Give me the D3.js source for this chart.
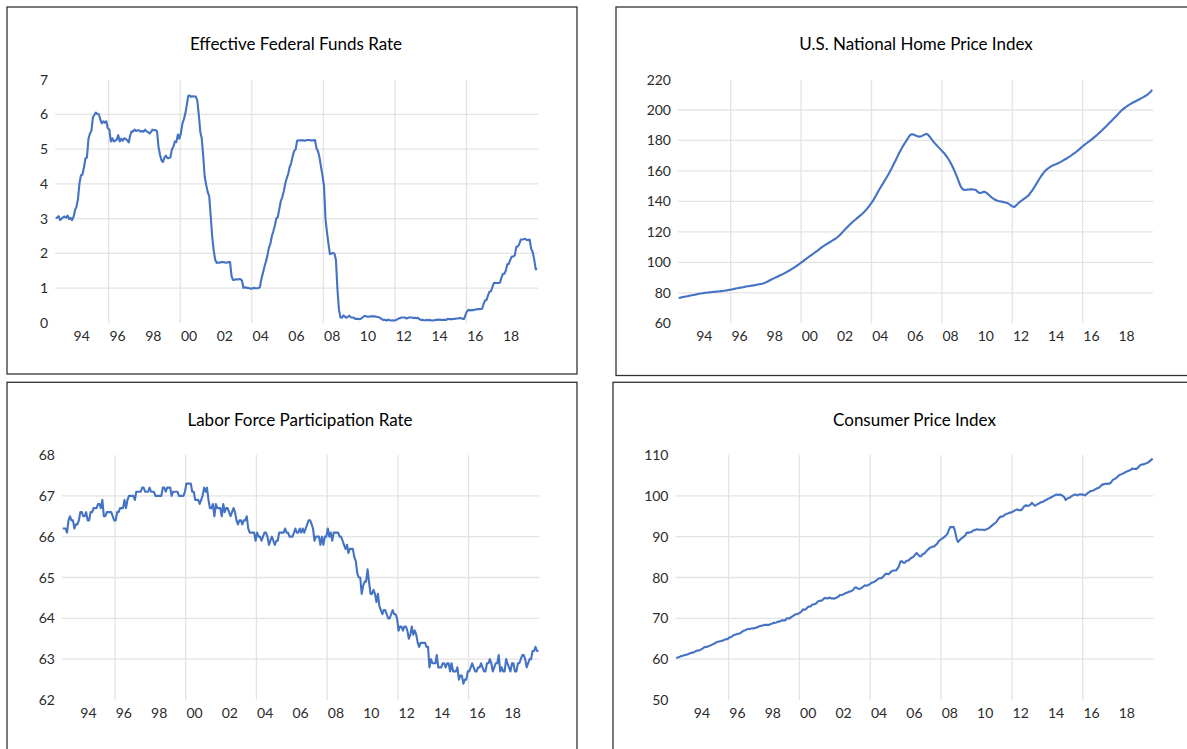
<!DOCTYPE html>
<html><head><meta charset="utf-8">
<script src="https://cdn.jsdelivr.net/npm/d3@7"></script>
<style>
body{margin:0;background:#fff;}
svg{display:block;font-family:Lato,'Open Sans',sans-serif;}
</style></head><body>
<svg id="c" width="1187" height="749"></svg>
<script>
// ---- data (monthly, Jan 1993 – Dec 2019) ----
const startYear = 1993;
const ffr = [
3.02,3.03,3.07,2.96,3.00,3.04,3.06,3.03,3.09,2.99,3.02,2.96,
3.05,3.25,3.34,3.56,4.01,4.25,4.26,4.47,4.73,4.76,5.29,5.45,
5.53,5.92,5.98,6.05,6.01,6.00,5.85,5.74,5.80,5.76,5.80,5.60,
5.56,5.22,5.31,5.22,5.24,5.27,5.40,5.22,5.30,5.24,5.31,5.29,
5.25,5.19,5.39,5.51,5.50,5.56,5.52,5.54,5.54,5.50,5.52,5.50,
5.56,5.51,5.49,5.45,5.49,5.56,5.54,5.55,5.51,5.07,4.83,4.68,
4.63,4.76,4.81,4.74,4.74,4.76,4.99,5.07,5.22,5.20,5.42,5.30,
5.45,5.73,5.85,6.02,6.27,6.53,6.54,6.50,6.52,6.51,6.51,6.40,
5.98,5.49,5.31,4.80,4.21,3.97,3.77,3.65,3.07,2.49,2.09,1.82,
1.73,1.74,1.73,1.75,1.75,1.75,1.73,1.74,1.75,1.75,1.34,1.24,
1.24,1.26,1.25,1.26,1.26,1.22,1.01,1.03,1.01,1.01,1.00,0.98,
1.00,1.01,1.00,1.00,1.00,1.03,1.26,1.43,1.61,1.76,1.93,2.16,
2.28,2.50,2.63,2.79,3.00,3.04,3.26,3.50,3.62,3.78,4.00,4.16,
4.29,4.49,4.59,4.79,4.94,4.99,5.24,5.25,5.25,5.25,5.25,5.24,
5.25,5.26,5.26,5.25,5.25,5.25,5.26,5.02,4.94,4.76,4.49,4.24,
3.94,2.98,2.61,2.28,1.98,2.00,2.01,2.00,1.81,0.97,0.39,0.16,
0.15,0.22,0.18,0.15,0.18,0.21,0.16,0.16,0.15,0.12,0.12,0.12,
0.11,0.13,0.16,0.20,0.20,0.18,0.18,0.19,0.19,0.19,0.19,0.18,
0.17,0.16,0.14,0.10,0.09,0.09,0.07,0.10,0.08,0.07,0.08,0.07,
0.08,0.10,0.13,0.14,0.16,0.16,0.16,0.13,0.14,0.16,0.16,0.16,
0.14,0.15,0.14,0.15,0.11,0.09,0.09,0.08,0.08,0.09,0.08,0.09,
0.07,0.07,0.08,0.09,0.09,0.10,0.09,0.09,0.09,0.09,0.09,0.12,
0.11,0.11,0.11,0.12,0.12,0.13,0.13,0.14,0.14,0.12,0.12,0.24,
0.34,0.38,0.36,0.37,0.37,0.38,0.39,0.40,0.40,0.40,0.41,0.54,
0.65,0.66,0.79,0.90,0.91,1.04,1.15,1.16,1.15,1.15,1.16,1.30,
1.41,1.42,1.51,1.69,1.70,1.82,1.91,1.91,1.95,2.19,2.20,2.27,
2.40,2.40,2.41,2.42,2.39,2.38,2.40,2.13,2.04,1.83,1.55,1.55];

const hpi = [
76.6,76.8,77.0,77.2,77.4,77.6,77.8,78.0,78.2,78.4,78.6,78.8,
79.0,79.2,79.4,79.6,79.7,79.8,80.0,80.1,80.2,80.3,80.4,80.5,
80.6,80.7,80.8,80.9,81.0,81.1,81.2,81.4,81.5,81.6,81.8,82.0,
82.2,82.4,82.6,82.8,83.0,83.2,83.4,83.5,83.7,83.9,84.1,84.3,
84.4,84.6,84.7,84.9,85.0,85.2,85.4,85.6,85.8,86.0,86.3,86.7,
87.1,87.6,88.1,88.6,89.1,89.5,90.0,90.4,90.9,91.4,91.8,92.3,
92.8,93.3,93.8,94.3,94.9,95.5,96.1,96.7,97.3,98.0,98.7,99.4,
100.1,100.8,101.6,102.3,103.0,103.7,104.4,105.1,105.8,106.5,107.2,107.9,
108.7,109.5,110.2,110.8,111.4,112.0,112.6,113.2,113.8,114.4,115.0,115.6,
116.3,117.1,118.0,119.0,120.0,121.0,122.0,123.0,124.0,125.0,125.9,126.8,
127.6,128.4,129.2,130.0,130.8,131.6,132.5,133.5,134.6,135.8,137.0,138.3,
139.7,141.2,142.8,144.5,146.3,148.0,149.6,151.2,152.8,154.4,156.0,157.6,
159.4,161.2,163.1,165.0,166.9,168.9,170.9,172.8,174.6,176.3,177.9,179.3,
180.9,182.4,183.6,184.1,184.0,183.6,183.1,182.7,182.5,182.6,183.0,183.5,
184.0,184.3,183.9,182.8,181.5,180.2,179.0,177.9,176.8,175.8,174.8,173.8,
172.8,171.8,170.6,169.3,167.8,166.2,164.4,162.4,160.3,158.0,155.6,153.1,
150.6,148.8,147.8,147.5,147.6,147.7,147.8,147.9,147.9,147.8,147.6,147.3,
146.2,145.6,145.5,145.9,146.3,146.2,145.6,144.8,143.9,143.0,142.2,141.6,
141.1,140.6,140.3,140.1,139.9,139.7,139.5,139.3,139.0,138.5,137.8,137.1,
136.6,136.3,137.2,138.2,139.1,139.9,140.6,141.3,142.0,142.7,143.5,144.3,
145.8,147.0,148.4,149.9,151.5,153.1,154.7,156.2,157.6,158.9,160.0,160.9,
161.7,162.4,163.0,163.5,163.9,164.3,164.7,165.1,165.6,166.1,166.7,167.3,
167.8,168.4,169.0,169.6,170.3,171.0,171.7,172.4,173.2,174.0,174.8,175.7,
176.5,177.3,178.0,178.7,179.4,180.1,180.9,181.7,182.5,183.3,184.2,185.1,
186.0,186.9,187.8,188.7,189.6,190.6,191.6,192.6,193.6,194.6,195.6,196.6,
197.6,198.6,199.6,200.4,201.2,201.9,202.6,203.2,203.8,204.4,204.9,205.4,
205.9,206.4,206.9,207.4,207.9,208.4,209.0,209.6,210.3,211.1,212.0,213.2];

const lfpr = [
66.2,66.2,66.2,66.1,66.4,66.5,66.4,66.4,66.2,66.3,66.3,66.4,
66.6,66.6,66.5,66.5,66.6,66.4,66.4,66.6,66.6,66.7,66.7,66.7,
66.8,66.8,66.7,66.9,66.5,66.5,66.6,66.6,66.6,66.6,66.5,66.4,
66.4,66.6,66.6,66.7,66.7,66.7,66.9,66.7,66.9,67.0,67.0,67.0,
67.0,66.9,67.1,67.1,67.1,67.1,67.2,67.2,67.1,67.1,67.1,67.2,
67.1,67.1,67.1,67.0,67.0,67.0,67.0,67.0,67.2,67.2,67.1,67.2,
67.2,67.2,67.0,67.1,67.1,67.1,67.1,67.0,67.0,67.0,67.0,67.1,
67.3,67.3,67.3,67.3,67.1,67.1,66.9,66.9,66.9,66.8,66.9,67.0,
67.2,67.1,67.2,66.9,66.7,66.7,66.8,66.5,66.8,66.7,66.7,66.7,
66.5,66.8,66.6,66.7,66.7,66.6,66.5,66.6,66.7,66.6,66.4,66.3,
66.4,66.4,66.3,66.4,66.4,66.5,66.2,66.1,66.1,66.1,66.1,65.9,
66.1,66.0,66.0,65.9,66.0,66.1,66.1,66.0,65.8,65.9,66.0,65.9,
65.8,65.9,65.9,66.1,66.1,66.1,66.1,66.2,66.1,66.1,66.0,66.0,
66.0,66.1,66.2,66.1,66.1,66.2,66.1,66.2,66.1,66.2,66.3,66.4,
66.4,66.3,66.2,65.9,66.0,66.0,66.0,65.8,66.0,65.8,66.0,66.0,
66.2,66.0,66.1,65.9,66.1,66.1,66.1,66.1,66.0,66.0,65.9,65.8,
65.7,65.8,65.6,65.7,65.7,65.7,65.5,65.4,65.1,65.0,65.0,64.6,
64.8,64.9,64.9,65.2,64.9,64.6,64.6,64.7,64.6,64.4,64.6,64.3,
64.2,64.1,64.2,64.2,64.1,64.0,64.0,64.1,64.2,64.1,64.1,64.0,
63.7,63.8,63.8,63.7,63.8,63.8,63.7,63.5,63.6,63.8,63.6,63.7,
63.6,63.4,63.3,63.4,63.4,63.4,63.4,63.3,63.3,62.8,63.0,62.9,
62.9,62.9,63.1,62.8,62.8,62.8,62.9,62.9,62.8,62.9,62.9,62.7,
62.9,62.7,62.7,62.7,62.8,62.5,62.6,62.6,62.4,62.5,62.5,62.7,
62.7,62.8,62.9,62.8,62.7,62.7,62.8,62.8,62.9,62.8,62.7,62.7,
62.9,62.9,63.0,62.9,62.7,62.8,62.9,62.9,63.1,62.7,62.8,62.7,
62.7,63.0,62.9,62.8,62.7,62.9,62.9,62.7,62.7,62.9,62.9,63.0,
63.1,63.1,63.0,62.8,62.9,63.0,63.0,63.2,63.2,63.3,63.2,63.2];

const cpi = [
60.3,60.4,60.5,60.7,60.8,60.9,61.0,61.1,61.2,61.4,61.5,61.6,
61.7,61.9,62.1,62.1,62.2,62.4,62.6,62.9,63.0,63.0,63.2,63.3,
63.5,63.7,63.8,64.1,64.2,64.3,64.4,64.5,64.6,64.8,64.9,64.9,
65.3,65.4,65.6,65.9,66.0,66.1,66.2,66.3,66.5,66.8,67.0,67.1,
67.3,67.4,67.4,67.5,67.5,67.6,67.7,67.8,68.0,68.1,68.2,68.3,
68.4,68.4,68.4,68.4,68.6,68.7,68.9,68.9,69.0,69.2,69.2,69.4,
69.5,69.5,69.5,70.0,70.0,70.0,70.3,70.5,70.8,71.0,71.0,71.2,
71.4,71.7,72.2,72.1,72.2,72.7,72.9,72.9,73.3,73.4,73.5,73.7,
74.1,74.3,74.3,74.4,74.8,75.0,74.9,74.9,75.1,74.9,74.9,74.8,
75.0,75.1,75.3,75.7,75.7,75.8,76.0,76.2,76.3,76.5,76.6,76.7,
77.0,77.5,77.6,77.3,77.2,77.3,77.5,77.8,78.1,78.0,78.1,78.3,
78.6,78.8,78.9,79.1,79.4,79.7,79.8,79.8,80.1,80.5,80.9,80.9,
80.8,81.2,81.5,81.7,81.7,81.7,82.2,82.7,83.9,84.0,83.6,83.6,
84.1,84.1,84.3,84.7,84.9,85.1,85.6,86.0,85.6,85.2,85.2,85.7,
85.8,86.2,86.6,86.9,87.3,87.4,87.6,87.6,88.0,88.3,88.9,89.2,
89.5,89.7,90.0,90.3,90.8,91.8,92.4,92.3,92.4,91.4,89.6,88.7,
89.1,89.5,89.7,90.0,90.3,91.0,90.9,91.1,91.1,91.4,91.6,91.7,
91.8,91.7,91.7,91.7,91.7,91.6,91.8,91.9,92.1,92.4,92.7,93.0,
93.3,93.6,94.1,94.6,94.9,94.9,95.1,95.4,95.6,95.7,95.9,95.9,
96.1,96.3,96.5,96.7,96.5,96.5,96.5,97.0,97.5,97.7,97.5,97.6,
97.8,98.3,98.0,97.6,97.7,98.0,98.1,98.4,98.5,98.6,98.9,99.0,
99.3,99.4,99.6,99.8,100.0,100.2,100.3,100.2,100.3,100.2,100.0,99.7,
99.0,99.3,99.5,99.6,99.9,100.1,100.3,100.3,100.1,100.3,100.4,100.3,
100.3,100.1,100.4,100.7,100.9,101.2,101.2,101.4,101.6,101.8,101.9,102.1,
102.5,102.8,102.8,103.0,102.9,103.0,103.0,103.4,103.9,104.1,104.3,104.6,
105.0,105.2,105.3,105.5,105.7,105.9,106.0,106.2,106.3,106.7,106.6,106.6,
106.6,106.9,107.3,107.6,107.7,107.7,107.9,108.0,108.2,108.5,108.8,109.1];

const xTickYears  = [1994,1996,1998,2000,2002,2004,2006,2008,2010,2012,2014,2016,2018];
const xTickLabels = ["94","96","98","00","02","04","06","08","10","12","14","16","18"];
const xGridYears  = [1996,2000,2004,2008,2012,2016];
const ffrTicks  = [0,1,2,3,4,5,6,7];
const hpiTicks  = [60,80,100,120,140,160,180,200,220];
const lfprTicks = [62,63,64,65,66,67,68];
const cpiTicks  = [50,60,70,80,90,100,110];
const titles = ["Effective Federal Funds Rate","U.S. National Home Price Index",
                "Labor Force Participation Rate","Consumer Price Index"];

// ---- layout ----
const panels = [
 {title:titles[0], values:ffr,  ticks:ffrTicks,  box:[7,7,570,367],      plot:{l:55,  r:538,  t:79.5, b:323}, tx:296, ty:50},
 {title:titles[1], values:hpi,  ticks:hpiTicks,  box:[616,7,600,368.5],  plot:{l:678, r:1153, t:79.5, b:323.3}, tx:916, ty:50},
 {title:titles[2], values:lfpr, ticks:lfprTicks, box:[7,382.3,570,420],  plot:{l:62,  r:539.3,t:455,  b:700}, tx:300, ty:426},
 {title:titles[3], values:cpi,  ticks:cpiTicks,  box:[613,382.3,600,420],plot:{l:675.5,r:1153.5,t:455, b:700}, tx:914.5, ty:426}
];

const svg = d3.select('#c');
const LINE = '#4472C4', GRID = '#e3e3e3', LABEL = '#2b2b2b';

panels.forEach(p => {
  const g = svg.append('g');
  const P = p.plot;
  const x = d3.scaleTime().domain([new Date(startYear,0,1), new Date(2020,0,1)]).range([P.l, P.r]);
  const y = d3.scaleLinear().domain(d3.extent(p.ticks)).range([P.b, P.t]);

  g.append('rect').attr('x',p.box[0]).attr('y',p.box[1]).attr('width',p.box[2]).attr('height',p.box[3])
    .attr('fill','#fff').attr('stroke','#333').attr('stroke-width',1.3);

  const inner = p.ticks.slice(1,-1);
  g.selectAll('.hg').data(inner).join('line')
    .attr('x1',P.l).attr('x2',P.r).attr('y1',d=>y(d)).attr('y2',d=>y(d))
    .attr('stroke',GRID).attr('stroke-width',1.3);
  g.selectAll('.vg').data(xGridYears).join('line')
    .attr('x1',d=>x(new Date(d,0,1))).attr('x2',d=>x(new Date(d,0,1)))
    .attr('y1',P.t).attr('y2',P.b)
    .attr('stroke',GRID).attr('stroke-width',1.3);

  g.selectAll('.yl').data(p.ticks).join('text')
    .attr('x',P.l-7).attr('y',d=>y(d)).attr('dy','0.36em')
    .attr('text-anchor','end').attr('font-size',14).attr('fill',LABEL)
    .text(d=>d);
  g.selectAll('.xl').data(xTickYears).join('text')
    .attr('x',d=>x(new Date(d,6,1))).attr('y',P.b+18)
    .attr('text-anchor','middle').attr('font-size',14).attr('fill',LABEL)
    .text((d,i)=>xTickLabels[i]);

  const line = d3.line()
    .x((d,i)=>x(new Date(startYear, i, 15)))
    .y(d=>y(d));
  g.append('path').datum(p.values).attr('d',line)
    .attr('fill','none').attr('stroke',LINE).attr('stroke-width',2.1).attr('stroke-linejoin','round');

  g.append('text').attr('x',p.tx).attr('y',p.ty).attr('text-anchor','middle')
    .attr('font-size',17).attr('fill','#000').text(p.title);
});
</script>
</body></html>
